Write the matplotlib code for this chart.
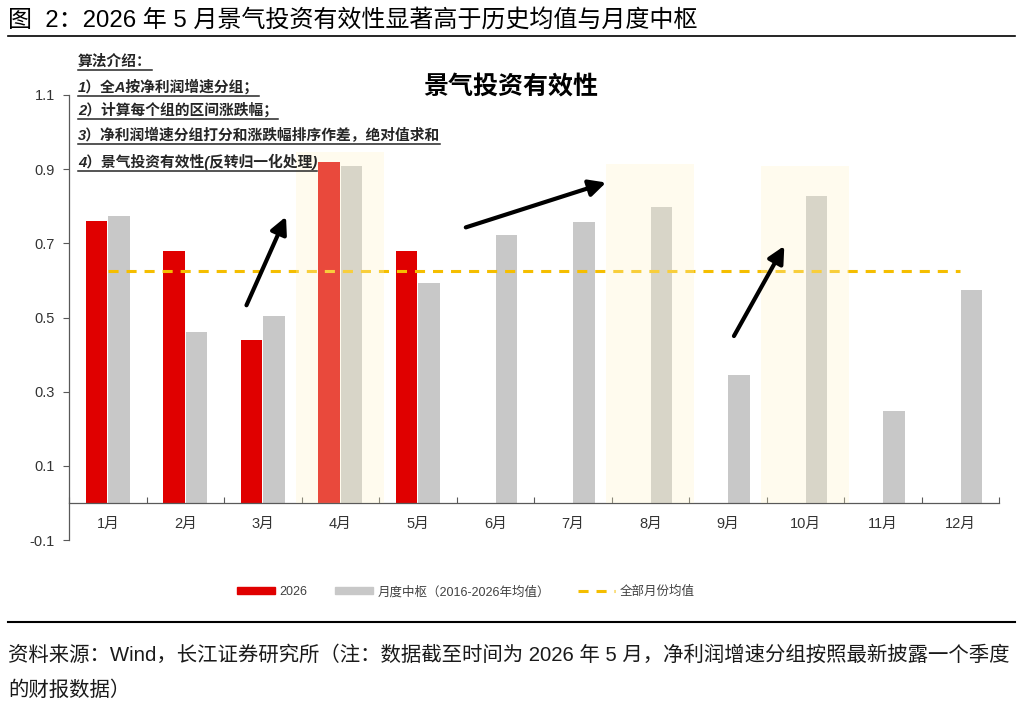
import matplotlib.pyplot as plt
import numpy as np
from matplotlib.patches import Patch
from matplotlib.lines import Line2D

plt.rcParams['font.family'] = ['Liberation Sans', 'Noto Sans CJK SC']

months = ['1月', '2月', '3月', '4月', '5月', '6月',
          '7月', '8月', '9月', '10月', '11月', '12月']
val_2026 = [0.759, 0.678, 0.440, 0.919, 0.678]
val_center = [0.773, 0.462, 0.503, 0.908, 0.594, 0.722,
              0.757, 0.799, 0.346, 0.827, 0.249, 0.575]
highlight_idx = [3, 7, 9]
highlight_top = [0.946, 0.914, 0.909]
yticks = [-0.1, 0.1, 0.3, 0.5, 0.7, 0.9, 1.1]
ytick_labels = ['-0.1', '0.1', '0.3', '0.5', '0.7', '0.9', '1.1']
# arrows: (start, tip) in data coords
arrows = [((1.79, 0.533), (2.30, 0.772)),
          ((4.62, 0.743), (6.43, 0.864)),
          ((8.08, 0.450), (8.73, 0.693))]
notes = ['算法介绍：',
         '1）全A按净利润增速分组；',
         '2）计算每个组的区间涨跌幅；',
         '3）净利润增速分组打分和涨跌幅排序作差，绝对值求和',
         '4）景气投资有效性(反转归一化处理)']
note_y = [62, 87, 110, 135, 162]

red = '#E00000'
gray = '#C8C8C8'
gold = '#F5BE00'
W, H = 1022, 712

fig = plt.figure(figsize=(W / 100, H / 100), dpi=100)
ax = fig.add_axes([69 / W, 1 - 540 / H, (999 - 69) / W, (540 - 95) / H])

x = np.arange(len(months))
bw = 0.28
ax.bar(x[:len(val_2026)] - 0.145, val_2026, bw, color=red, zorder=2)
ax.bar(x + 0.145, val_center, bw, color=gray, zorder=2)

avg_all = np.mean(val_center)
ax.plot(x, [avg_all] * len(x), color=gold, lw=2.2, dashes=(3.3, 2.6), zorder=2.5)

ax.bar(x[highlight_idx], highlight_top, 1.13, color='#FFF5C8', alpha=0.3,
       zorder=3, linewidth=0)

for start, tip in arrows:
    ax.annotate('', xy=tip, xytext=start, zorder=5,
                arrowprops=dict(arrowstyle='-|>,head_length=0.5,head_width=0.25',
                                mutation_scale=20, lw=3, color='black',
                                shrinkA=0, shrinkB=0))

ax.set_xlim(-0.5, 11.5)
ax.set_ylim(-0.1, 1.1)
ax.spines['top'].set_visible(False)
ax.spines['right'].set_visible(False)
ax.spines['bottom'].set_position(('data', 0))
for s in ['left', 'bottom']:
    ax.spines[s].set_color('#595959')
    ax.spines[s].set_linewidth(0.9)

ax.set_yticks(yticks)
ax.set_yticklabels(ytick_labels)
ax.tick_params(axis='y', direction='out', length=4, colors='#595959',
               labelcolor='#333333', labelsize=10.5, pad=6)

ax.set_xticks(np.arange(-0.5, 12, 1))
ax.set_xticklabels([])
ax.tick_params(axis='x', which='major', direction='in', length=4, color='#595959')
ax.set_xticks(x, minor=True)
ax.set_xticklabels(months, minor=True)
ax.tick_params(axis='x', which='minor', length=0, labelsize=10.5,
               labelcolor='#333333', pad=10)

fig.text(511 / W, 1 - 87 / H, '景气投资有效性', fontsize=18, fontweight='bold',
         ha='center', va='center')

note_texts = []
for s, yy in zip(notes, note_y):
    t = fig.text(78 / W, 1 - yy / H, s, fontsize=10.6, fontweight='bold',
                 style='italic', color='#262626', ha='left', va='center')
    note_texts.append(t)

fig.text(8 / W, 1 - 20 / H, '图  2：2026 年 5 月景气投资有效性显著高于历史均值与月度中枢',
         fontsize=17.3, ha='left', va='center', color='black')
fig.add_artist(Line2D([8 / W, 1015 / W], [1 - 36 / H] * 2, color='black', lw=1.2))
fig.add_artist(Line2D([8 / W, 1015 / W], [1 - 622 / H] * 2, color='black', lw=1.5))
fig.text(8 / W, 1 - 655 / H,
         '资料来源：Wind，长江证券研究所（注：数据截至时间为 2026 年 5 月，净利润增速分组按照最新披露一个季度',
         fontsize=14.7, ha='left', va='center', color='#1a1a1a')
fig.text(8 / W, 1 - 690 / H, '的财报数据）', fontsize=14.7, ha='left', va='center',
         color='#1a1a1a')

handles = [Patch(color=red), Patch(color=gray),
           Line2D([], [], color=gold, lw=2.2, dashes=(3.3, 2.6))]
labels = ['2026', '月度中枢（2016-2026年均值）', '全部月份均值']
fig.legend(handles, labels, loc='center', bbox_to_anchor=(466 / W, 1 - 592 / H),
           ncol=3, frameon=False, fontsize=9, handlelength=3.0, handleheight=0.48,
           handletextpad=0.4, columnspacing=2.2, labelcolor='#404040')

# underline the notes
fig.canvas.draw()
r = fig.canvas.get_renderer()
for t in note_texts:
    bb = t.get_window_extent(r)
    yl = (bb.y0 - 1) / H
    fig.add_artist(Line2D([bb.x0 / W, bb.x1 / W], [yl, yl], color='#262626', lw=1.1))

fig.savefig('out.png', dpi=100)
